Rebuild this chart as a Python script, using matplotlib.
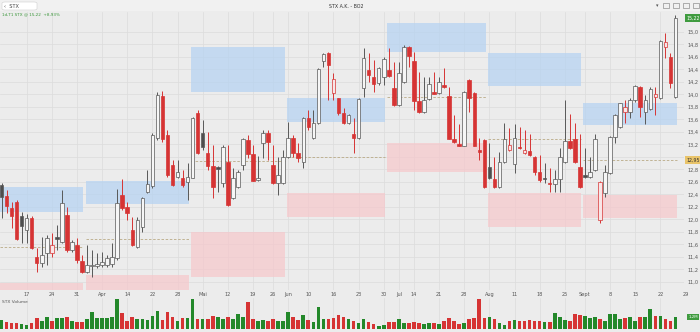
import matplotlib
matplotlib.use("Agg")
import matplotlib.pyplot as plt
import matplotlib.transforms as mtransforms
from matplotlib.patches import Rectangle, FancyBboxPatch
import numpy as np

# daily candles, left to right
opens = [12.55, 12.38, 12.18, 12.28, 12.06, 11.83, 12.02, 11.40, 11.30, 11.46,
         11.46, 11.72, 11.64, 12.07, 11.51, 11.59, 11.34, 11.16, 11.25, 11.26,
         11.27, 11.27, 11.29, 11.38, 12.39, 12.20, 11.83, 11.56, 11.88, 12.44,
         12.54, 13.30, 13.98, 13.35, 12.87, 12.68, 12.66, 12.60, 12.67, 13.70,
         13.38, 13.06, 12.85, 12.84, 12.58, 12.92, 12.34, 12.52, 12.87, 13.27,
         13.04, 12.63, 13.22, 13.39, 12.87, 12.58, 12.58, 13.00, 13.30, 13.06,
         12.92, 13.63, 13.30, 13.54, 14.54, 14.66, 14.02, 13.94, 13.70, 13.54,
         13.37, 13.30, 14.10, 14.39, 14.28, 14.18, 14.28, 14.39, 14.10, 13.83,
         14.20, 14.76, 14.54, 13.90, 13.72, 13.93, 14.04, 14.02, 14.15, 13.98,
         13.29, 13.21, 13.18, 14.23, 14.02, 13.11, 13.27, 12.84, 12.65, 12.52,
         12.92, 13.11, 12.89, 13.16, 13.06, 13.10, 13.00, 12.76, 12.66, 12.58,
         12.57, 12.65, 12.92, 13.26, 13.29, 12.84, 12.71, 12.68, 12.79, 11.99,
         12.42, 12.74, 13.32, 13.48, 13.72, 13.72, 13.91, 14.12, 13.72, 13.77,
         13.96, 13.94, 14.76, 14.60, 13.96]
highs = [12.58, 12.47, 12.28, 12.31, 12.12, 12.09, 12.06, 11.54, 11.72, 11.75,
         11.78, 11.91, 12.47, 12.20, 11.67, 11.70, 11.43, 11.59, 11.51, 11.46,
         11.48, 11.43, 11.62, 12.49, 12.65, 12.28, 12.04, 12.04, 12.36, 12.79,
         13.38, 14.04, 14.06, 13.43, 12.95, 12.95, 12.79, 12.90, 13.64, 13.75,
         13.59, 13.40, 13.19, 12.85, 13.19, 13.19, 12.82, 12.79, 13.30, 13.35,
         13.19, 13.02, 13.43, 13.43, 13.19, 13.00, 13.11, 13.56, 13.35, 13.22,
         13.64, 13.75, 13.75, 14.42, 14.66, 14.68, 14.34, 13.95, 13.78, 13.68,
         13.62, 13.94, 14.74, 14.66, 14.55, 14.44, 14.60, 14.74, 14.52, 14.52,
         14.79, 14.78, 14.68, 14.36, 14.28, 14.28, 14.36, 14.28, 14.42, 14.12,
         13.67, 13.53, 14.05, 14.24, 14.04, 13.30, 13.29, 13.22, 13.00, 13.08,
         13.54, 13.46, 13.53, 13.48, 13.43, 13.37, 13.01, 13.03, 12.90, 12.82,
         12.79, 13.14, 13.91, 13.69, 13.54, 13.37, 13.14, 13.00, 13.37, 12.61,
         12.87, 13.33, 13.68, 13.87, 13.91, 13.94, 14.15, 14.14, 13.99, 14.12,
         14.12, 14.87, 14.98, 14.66, 15.27]
lows = [12.02, 12.10, 11.86, 11.67, 11.62, 11.62, 11.53, 11.16, 11.24, 11.27,
        11.40, 11.51, 11.62, 11.48, 11.48, 11.30, 11.15, 11.15, 11.08, 11.22,
        11.24, 11.24, 11.24, 11.35, 12.15, 11.99, 11.58, 11.55, 11.80, 12.42,
        12.50, 13.27, 13.24, 12.68, 12.54, 12.66, 12.52, 12.31, 12.66, 13.05,
        13.11, 12.79, 12.34, 12.44, 12.52, 12.22, 12.33, 12.50, 12.79, 12.98,
        12.61, 12.62, 12.98, 12.95, 12.57, 12.39, 12.57, 12.98, 13.00, 12.92,
        12.82, 13.43, 13.29, 13.53, 14.44, 13.91, 13.91, 13.67, 13.53, 13.53,
        13.06, 13.29, 13.96, 14.20, 14.04, 14.15, 14.15, 14.28, 13.82, 13.82,
        14.18, 14.44, 13.75, 13.71, 13.71, 13.91, 14.00, 14.00, 14.11, 13.28,
        13.23, 13.17, 13.17, 13.72, 13.17, 12.95, 12.51, 12.65, 12.51, 12.51,
        12.90, 13.10, 12.74, 13.13, 13.05, 13.02, 12.71, 12.60, 12.58, 12.44,
        12.44, 12.44, 12.90, 13.13, 12.90, 12.51, 12.67, 12.66, 12.78, 11.94,
        12.36, 12.73, 13.22, 13.47, 13.54, 13.62, 13.88, 13.64, 13.53, 13.75,
        13.67, 13.93, 14.58, 14.10, 13.95]
closes = [12.36, 12.22, 12.06, 11.69, 11.90, 12.02, 11.54, 11.30, 11.43, 11.70,
          11.59, 11.69, 12.26, 11.51, 11.64, 11.35, 11.16, 11.27, 11.27, 11.29,
          11.32, 11.38, 11.40, 12.26, 12.18, 12.10, 11.59, 11.99, 12.34, 12.57,
          13.35, 13.99, 13.28, 12.71, 12.55, 12.76, 12.55, 12.68, 13.62, 13.06,
          13.16, 12.86, 12.52, 12.81, 13.16, 12.23, 12.66, 12.76, 13.29, 13.05,
          12.62, 12.66, 13.38, 13.24, 12.58, 12.71, 13.00, 13.30, 13.06, 12.98,
          13.62, 13.48, 13.54, 14.41, 14.65, 14.47, 14.25, 13.70, 13.54, 13.67,
          13.30, 13.93, 14.58, 14.31, 14.17, 14.42, 14.57, 14.30, 13.83, 14.34,
          14.76, 14.62, 13.90, 13.72, 13.91, 14.17, 14.01, 14.20, 14.12, 13.29,
          13.24, 13.18, 14.04, 13.94, 13.18, 13.08, 12.52, 12.66, 12.52, 12.92,
          13.29, 13.19, 13.30, 13.14, 13.11, 13.03, 12.76, 12.63, 12.64, 12.56,
          12.65, 13.00, 13.26, 13.14, 12.92, 12.52, 12.68, 12.76, 13.29, 12.60,
          12.76, 13.32, 13.67, 13.86, 13.80, 13.91, 14.14, 13.80, 13.91, 14.09,
          14.01, 14.86, 14.84, 14.18, 15.22]
# volume in 100k shares
volumes = [9, 7, 6, 6, 5, 4, 6, 11, 8, 12, 8, 11, 11, 12, 8, 7, 7, 10, 17, 11,
           11, 11, 12, 30, 16, 8, 12, 10, 10, 9, 13, 18, 9, 17, 12, 8, 11, 11, 30, 10,
           10, 10, 13, 12, 10, 12,
           10, 15, 12, 27, 10, 8, 9, 8, 10, 8, 8, 17, 12, 9, 14, 9, 7, 22, 10, 10,
           11, 14, 12, 10, 8, 6, 10, 7, 5, 3, 4, 7, 7, 10, 6, 6, 7, 6, 5, 6,
           6, 5, 8, 11, 8,
           5, 6, 10, 11, 30, 11, 12, 10, 6, 4, 8, 9, 8, 8, 9, 8, 8, 7, 7, 16,
           12, 9, 8, 15, 14, 13, 11, 12, 10, 8, 15, 15, 10, 11, 12, 8, 12, 12, 20, 13,
           13, 10, 8, 12]

# monthly value areas (first candle of each month)
month_start = [0, 17, 38, 57, 77, 97, 116]
blue_hi = [12.52, 12.62, 14.76, 13.94, 15.14, 14.66, 13.86]
blue_lo = [12.12, 12.25, 14.04, 13.56, 14.68, 14.14, 13.51]
pink_hi = [10.98, 11.11, 11.80, 12.42, 13.22, 12.42, 12.39]
pink_lo = [10.80, 10.80, 11.08, 12.04, 12.76, 11.88, 12.02]
mid_line = [11.56, 11.69, 12.93, 13.00, 13.96, 13.29, 12.95]

tick_idx = [5, 10, 15, 20, 25, 30, 35, 40, 45, 50, 54, 57, 61, 66, 71, 76, 79, 82,
            87, 92, 97, 102, 107, 112, 116, 121, 126, 131, 136]
tick_labels = ["17", "24", "31", "Apr", "14", "22", "28", "Mai", "12", "19", "26",
               "Jun", "10", "16", "23", "30", "Jul", "14", "21", "28", "Aug", "11",
               "18", "25", "Sept", "8", "15", "22", "29"]

BG = "#ececec"
GRID = "#dcdcdc"
RED = "#d63434"
GRAY = "#585858"
DARK = "#4e4e4e"
HOLLOW = "#f6f6f6"
PINKFILL = "#f8e6e7"
GREEN = "#23882a"
BLUE = "#b4d2f2"
PINK = "#f6c7cb"
MIDC = "#b9aa86"

W, H = 700, 332
fig = plt.figure(figsize=(7, 3.32), dpi=100, facecolor=BG)


def fx(px):
    return px / W


def fy(py):
    return 1 - py / H


ax = fig.add_axes([0, fy(290), fx(684), (290 - 12) / H])
axv = fig.add_axes([0, fy(329), fx(684), (329 - 298) / H], sharex=ax)

o = np.array(opens)
hi = np.array(highs)
lo = np.array(lows)
c = np.array(closes)
n = len(c)
prev = np.r_[c[0], c[:-1]]
down = c < prev
filled = c < o

for a in (ax, axv):
    a.set_facecolor(BG)
    for s in a.spines.values():
        s.set_visible(False)
    a.set_axisbelow(True)

# value areas and mid lines
bounds = month_start + [n]
for k in range(len(month_start)):
    x0 = bounds[k] - 0.3
    x1 = bounds[k + 1] - 0.7
    ax.add_patch(Rectangle((x0, blue_lo[k]), x1 - x0, blue_hi[k] - blue_lo[k],
                           fc=BLUE, ec="none", alpha=0.7, zorder=1))
    ax.add_patch(Rectangle((x0, pink_lo[k]), x1 - x0, pink_hi[k] - pink_lo[k],
                           fc=PINK, ec="none", alpha=0.7, zorder=1))
    ax.hlines(mid_line[k], x0, x1, colors=MIDC, lw=0.6,
              linestyles=(0, (3, 2)), zorder=2)

# candles
for i in range(n):
    col = RED if down[i] else GRAY
    ax.vlines(i, lo[i], hi[i], color=col, lw=0.7, zorder=3)
    if filled[i]:
        fc = RED if down[i] else DARK
    else:
        fc = PINKFILL if down[i] else HOLLOW
    bottom = min(o[i], c[i])
    height = max(abs(c[i] - o[i]), 0.012)
    ax.add_patch(Rectangle((i - 0.35, bottom), 0.7, height, fc=fc, ec=col,
                           lw=0.5, zorder=4))

ax.set_xlim(-0.3, 135.7)
ax.set_ylim(10.872, 15.32)

yt = np.round(np.arange(11.0, 15.01, 0.2), 1)
ax.set_yticks(yt)
# the label under the mid-line tag is hidden, as in the platform
ylabs = ["" if abs(v - mid_line[-1]) < 0.1 else f"{v:.1f}".replace(".", ",")
         for v in yt]
ax.set_yticklabels(ylabs)
ax.yaxis.tick_right()
ax.tick_params(axis="y", length=0, pad=2.5, labelsize=3.6, labelcolor="#555555")
ax.set_xticks([t for t in tick_idx if t < 135.7])
ax.tick_params(axis="x", length=0, labelbottom=False)
ax.grid(color=GRID, lw=0.5)

for t, lab in zip(tick_idx, tick_labels):
    ax.text(t, -0.0144, lab, transform=ax.get_xaxis_transform(), ha="center",
            va="center", fontsize=3.6, color="#555555", clip_on=False)

ytr = mtransforms.blended_transform_factory(ax.transAxes, ax.transData)
ax.text(1.004, c[-1], f"{c[-1]:.2f}".replace(".", ","), transform=ytr,
        ha="left", va="center", fontsize=3.4, color="white", clip_on=False,
        bbox=dict(boxstyle="square,pad=0.3", fc="#3f9b3f", ec="none"), zorder=6)
ax.text(1.004, mid_line[-1], f"{mid_line[-1]:.2f}".replace(".", ","), transform=ytr,
        ha="left", va="center", fontsize=3.4, color="#333333", clip_on=False,
        bbox=dict(boxstyle="square,pad=0.3", fc="#e9c46a", ec="none"), zorder=6)

# volume
vcol = [RED if d else GREEN for d in down]
axv.bar(np.arange(n), volumes, width=0.72, color=vcol, zorder=3)
axv.set_ylim(0, 31)
axv.set_yticks([])
axv.tick_params(axis="x", length=0, labelbottom=False)
axv.grid(axis="x", color=GRID, lw=0.5)
axv.text(0.003, 0.86, "STX Volume", transform=axv.transAxes, fontsize=3.2,
         color="#555555", va="center")
vtr = mtransforms.blended_transform_factory(axv.transAxes, axv.transData)
axv.text(1.006, volumes[-1], "1,2M", transform=vtr, ha="left", va="center",
         fontsize=2.8, color="white", clip_on=False,
         bbox=dict(boxstyle="square,pad=0.2", fc="#3f9b3f", ec="none"))

# toolbar
fig.patches.append(Rectangle((0, fy(11)), 1, 11 / H, transform=fig.transFigure,
                             fc="#f1f1f1", ec="none", zorder=0))
fig.patches.append(FancyBboxPatch((fx(2), fy(10)), fx(35), 8 / H,
                                  boxstyle="round,pad=0,rounding_size=0.004",
                                  transform=fig.transFigure, fc="white",
                                  ec="#cfcfcf", lw=0.4))
fig.text(fx(4), fy(6), "‹  STX", fontsize=3.6, color="#444444", va="center")
fig.text(0.495, fy(6), "STX A.K. - BO2", fontsize=3.4, color="#333333",
         ha="center", va="center")
for px in (666, 676, 686, 696):
    fig.patches.append(Rectangle((fx(px - 3), fy(8)), fx(6), 5 / H,
                                 transform=fig.transFigure, fc="none",
                                 ec="#777777", lw=0.4))
fig.text(fx(657), fy(6), "▾", fontsize=3.6, color="#555555", ha="center",
         va="center")
fig.text(fx(2), fy(14.5), "1d,T1 STX @ 15,22  +8,93%", fontsize=3.0,
         color="#3a963a", va="center")

fig.savefig("out.png", dpi=100, facecolor=BG)
